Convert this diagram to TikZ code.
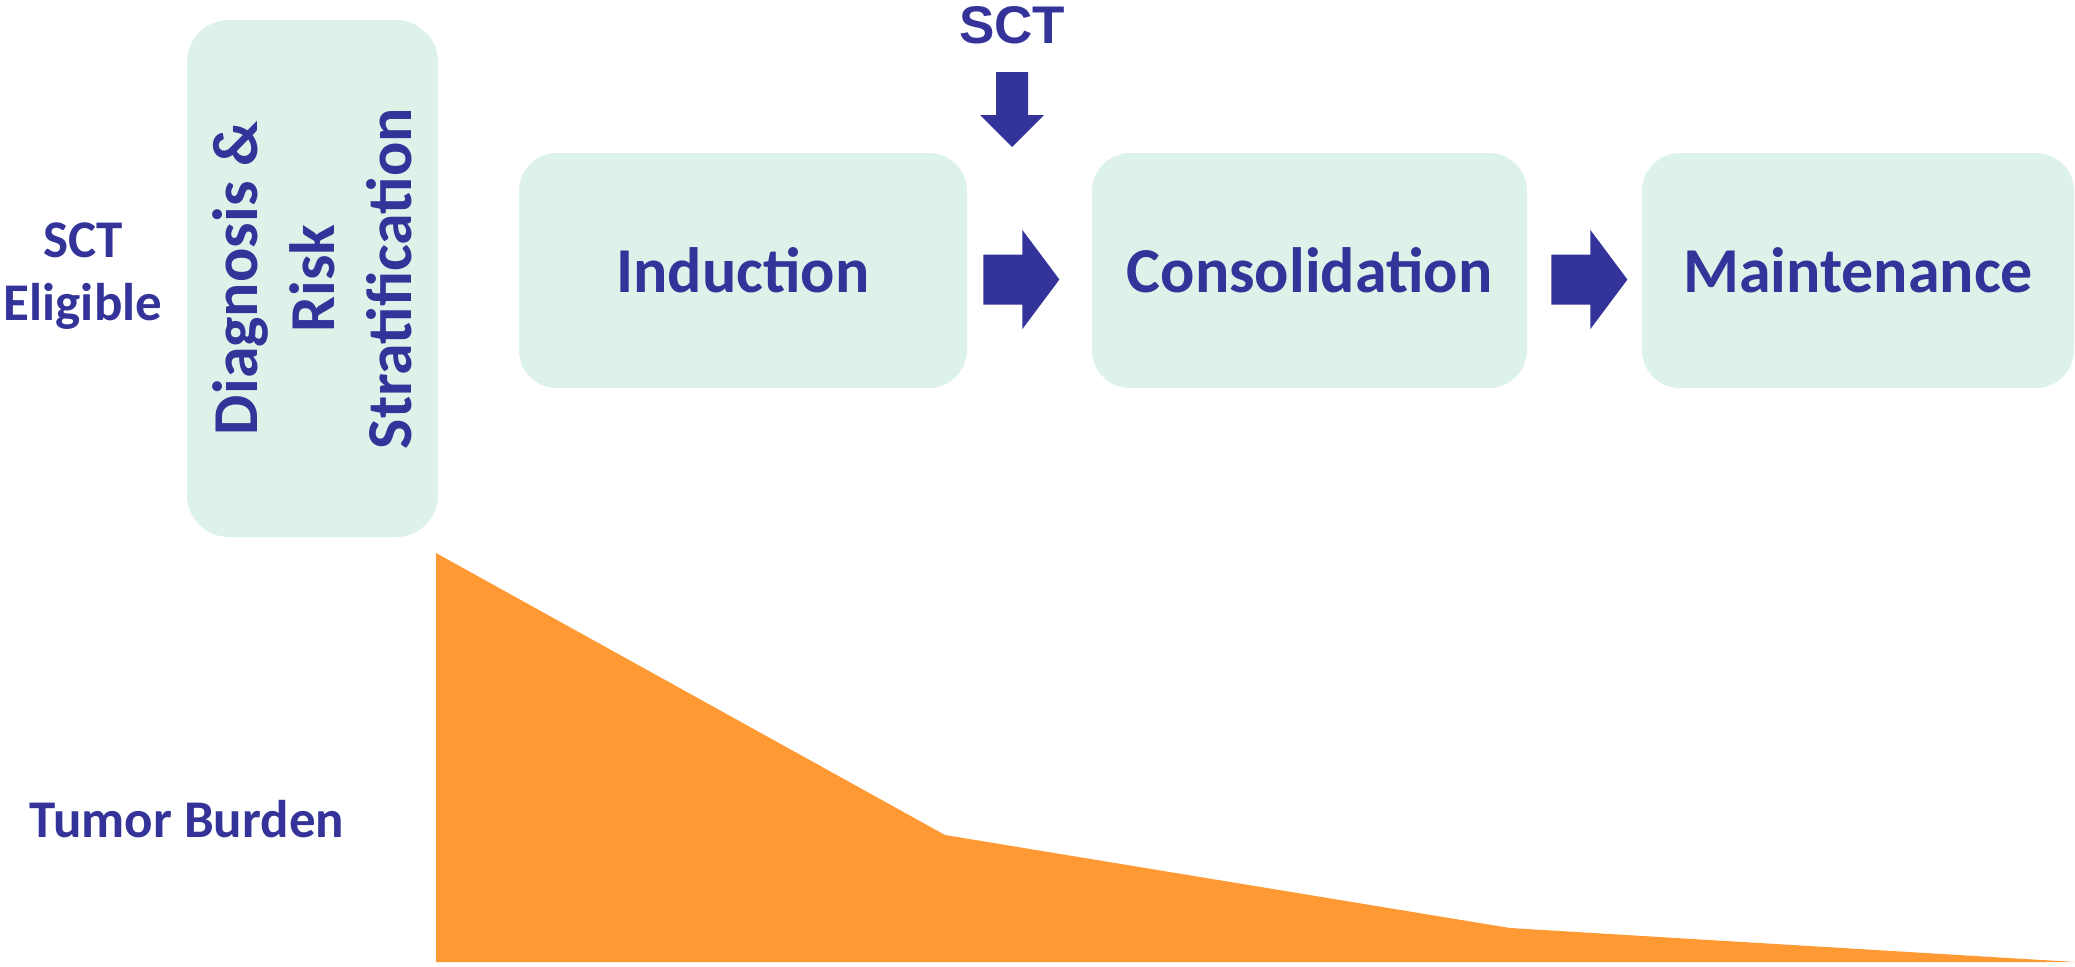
\documentclass[tikz,border=0pt]{standalone}
\usepackage{fontspec}
\setmainfont{Carlito}
\newfontfamily\arialfont{Liberation Sans}
\usetikzlibrary{calc}
\definecolor{stepblue}{HTML}{333399}
\definecolor{stepgreen}{HTML}{DDF2E8}
\definecolor{tumorange}{HTML}{FF9933}
\tikzset{
  phase/.style={fill=stepgreen, rounded corners=19pt, inner sep=0pt, text=stepblue,
    font=\bfseries\fontsize{32}{38.5}\selectfont, minimum height=117.5pt},
  lbl/.style={inner sep=0pt, text=stepblue, font=\bfseries\fontsize{26.5}{31.5}\selectfont}
}
%% fat arrow, #1 = middle of its tail
\newcommand{\blockarrow}[1]{%
  \fill[stepblue] #1 ++(0,-25) -- ++(39,0) -- ++(0,-24.5) -- ++(37,49.5)
    -- ++(-37,49.5) -- ++(0,-24.5) -- ++(-39,0) -- cycle;}
\begin{document}
\begin{tikzpicture}[x=0.5pt,y=-0.5pt]
      \useasboundingbox (0,0) rectangle (2075,966);
      %% tumor burden
      \fill[tumorange] (436,553) -- (945,835) -- (1510,928) -- (2075,962) -- (436,962) -- cycle;

      %% phases
      \node[phase, rotate=90, align=center, minimum width=258.5pt, minimum height=125.5pt, rounded corners=21pt]
        (diag) at (312.5,278.5) {Diagnosis \&\\Risk\\Stratification};
      \node[phase, minimum width=224pt] (ind) at (743,270.5) {Induction};
      \node[phase, minimum width=217.5pt] (con) at (1309.5,270.5) {Consolidation};
      \node[phase, minimum width=216pt] (mnt) at (1858,270.5) {Maintenance};

      %% labels
      \node[lbl, align=center] (elig) at (83,276) {SCT\\Eligible};
      \node[lbl, anchor=base] (tb) at (187,837) {Tumor Burden};
      \node[lbl, anchor=base, font=\arialfont\bfseries\fontsize{26.5}{30}\selectfont] (sct) at (1012,43) {SCT};

      %% arrows
      \fill[stepblue] ($(sct.base)+(-16,29)$) -- ++(32,0) -- ++(0,43) -- ++(16,0)
        -- ++(-32,32) -- ++(-32,-32) -- ++(16,0) -- cycle;
      \blockarrow{($(ind.east)+(16,9)$)}
      \blockarrow{($(con.east)+(24,9)$)}
\end{tikzpicture}
\end{document}
